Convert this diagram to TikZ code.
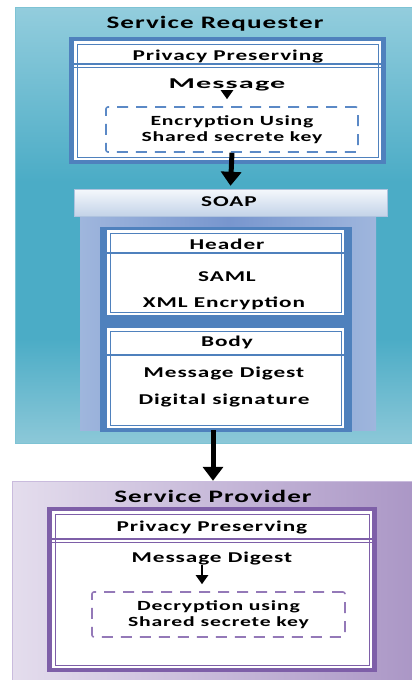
\documentclass[tikz,border=0pt]{standalone}
\usepackage{fontspec}
\setmainfont{Carlito}[FakeStretch=1.55,LetterSpace=6]
\usetikzlibrary{arrows.meta}
\definecolor{reqlight}{HTML}{93CDDD}
\definecolor{reqlight2}{HTML}{8CC8D8}
\definecolor{reqmid}{HTML}{4BACC6}
\definecolor{reqedge}{HTML}{7EC3D4}
\definecolor{bluebox}{HTML}{4F81BD}
\definecolor{bluedash}{HTML}{5B89C6}
\definecolor{soapouter}{HTML}{9FB6DD}
\definecolor{soapmid}{HTML}{7896CE}
\definecolor{soaptop}{HTML}{F5F8FC}
\definecolor{soapbot}{HTML}{C3D3E8}
\definecolor{soapedge}{HTML}{AFC3DE}
\definecolor{provlight}{HTML}{E4DDED}
\definecolor{provdark}{HTML}{AB97C6}
\definecolor{provedge}{HTML}{C9BBDD}
\definecolor{purplebox}{HTML}{7E5FA8}
\definecolor{purpledash}{HTML}{9479B8}
\pgfdeclareverticalshading{reqshade}{100bp}{color(0bp)=(reqlight2); color(25bp)=(reqlight2);
  color(37bp)=(reqmid); color(55bp)=(reqmid); color(75bp)=(reqlight); color(100bp)=(reqlight)}
\tikzset{
  lbl/.style={inner sep=0pt, anchor=base, font=\bfseries\fontsize{15}{18}\selectfont},
  ttl/.style={inner sep=0pt, anchor=base, font=\bfseries\fontsize{17.5}{20}\selectfont},
  dashbox/.style={draw, line width=1.6pt, dash pattern=on 11pt off 8pt, rounded corners=2pt,
    inner sep=0pt, align=center, font=\bfseries\fontsize{14}{16.5}\selectfont},
  bigarrow/.style={line width=5pt, -{Triangle[width=20pt,length=14pt]}},
  smallarrow/.style={line width=2.5pt, -{Triangle[width=12pt,length=9pt]}},
}
\begin{document}
\begin{tikzpicture}[x=1pt,y=-1pt]
\useasboundingbox (0,0) rectangle (412,680);
% ---------- Service Requester ----------
\shade[shading=reqshade, draw=reqedge] (15,7) rectangle (412,443);
\node[ttl] (reqtitle) at (215,28) {Service Requester};
% privacy box
\fill[bluebox] (69,37) rectangle (386,164);
\fill[white] (74,41) rectangle (381,160);
\draw[bluebox, line width=1pt] (77,44) rectangle (378,157);
\draw[bluebox, line width=1.5pt] (74,64) -- (381,64);
\draw[bluebox, line width=1pt] (74,67) -- (381,67);
\node[lbl] (pp1) at (228,60) {Privacy Preserving};
\node[lbl] (msg) at (227,88) {\scalebox{1.3}[1]{Message}};
\node[dashbox, draw=bluedash, minimum width=252pt, minimum height=45pt] (enc) at (232,129.5)
  {Encryption Using\\Shared secrete key};
% ---------- SOAP ----------
\shade[left color=soapouter, right color=soapouter, middle color=soapmid] (80,216) rectangle (376,430);
\node[inner sep=0pt, minimum width=296pt, minimum height=214pt] (soapbody) at (228,323) {};
\fill[bluebox] (100,227) rectangle (352,432);
\shade[top color=soaptop, bottom color=soapbot, draw=soapedge] (74,189) rectangle (387,216);
\node[inner sep=0pt, minimum width=313pt, minimum height=27pt] (soap) at (230.5,202.5) {};
\node[lbl] (soaplbl) at (229,206) {SOAP};
% header box
\fill[white] (107,230) rectangle (344,315);
\draw[bluebox, line width=1pt] (110,233) rectangle (341,312);
\draw[bluebox, line width=1.5pt] (107,253) -- (344,253);
\node[lbl] (hdr) at (227,249) {Header};
\node[lbl] (saml) at (227,281) {SAML};
\node[lbl] (xmlenc) at (224,307) {XML Encryption};
% body box
\fill[white] (107,328) rectangle (344,428);
\draw[bluebox, line width=1pt] (110,331) rectangle (341,425);
\draw[bluebox, line width=1.5pt] (107,355) -- (344,355);
\node[lbl] (body) at (227,346) {Body};
\node[lbl] (mdig) at (224,377) {Message Digest};
\node[lbl] (dsig) at (224,404) {Digital signature};
% ---------- Service Provider ----------
\shade[left color=provlight, right color=provdark, draw=provedge] (12,481) rectangle (412,680);
\node[inner sep=0pt, minimum width=400pt, minimum height=199pt] (prov) at (212,580.5) {};
\node[ttl] (provtitle) at (213,502) {Service Provider};
\fill[purplebox] (47,507) rectangle (377,672);
\fill[white] (52,511) rectangle (372,668);
\draw[purplebox, line width=1pt] (55,514) rectangle (369,665);
\draw[purplebox, line width=1.5pt] (52,539) -- (372,539);
\draw[purplebox, line width=1pt] (52,542) -- (372,542);
\node[lbl] (pp2) at (212,531) {Privacy Preserving};
\node[lbl] (msgd) at (212,562) {Message Digest};
\node[dashbox, draw=purpledash, minimum width=253pt, minimum height=45pt] (dec) at (218.5,614.5)
  {Decryption using\\Shared secrete key};
% ---------- arrows ----------
\draw[smallarrow] (msg.south) ++(0,2) coordinate (a1s) -- (a1s |- enc.north) [shorten >=7pt];
\draw[bigarrow] (enc.south) -- ([yshift=3pt]soap.north);
\coordinate (a2x) at (213,0);
\draw[bigarrow] (soapbody.south -| a2x) -- (prov.north -| a2x);
\coordinate (a3x) at (202,0);
\draw[smallarrow, shorten >=7pt] (msgd.south -| a3x) -- (dec.north -| a3x);
\end{tikzpicture}
\end{document}
